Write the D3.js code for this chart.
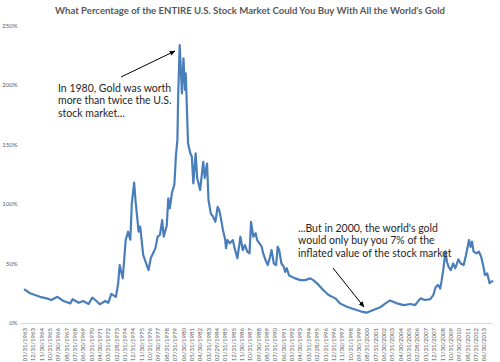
<!DOCTYPE html>
<html>
<head>
<meta charset="utf-8">
<script src="https://cdn.jsdelivr.net/npm/d3@7"></script>
<style>
  body { margin: 0; background: #fff; }
  svg { display: block; }
</style>
</head>
<body>
<svg id="chart"></svg>
<script>
/// data ///
const months = [
  "1963-01","1963-09","1964-10","1965-07","1966-01","1966-09","1967-05","1968-02","1968-05","1969-01",
  "1969-07","1970-02","1970-07","1970-12","1971-05","1971-12","1972-04","1972-08","1973-02","1973-05",
  "1973-07","1973-11","1974-03","1974-06","1974-09","1974-11","1975-02","1975-04","1975-08","1975-10",
  "1976-02","1976-09","1976-12","1977-06","1977-09","1977-12","1978-03","1978-05","1978-09","1978-11",
  "1979-01","1979-04","1979-06","1979-07","1979-09","1979-11","1979-12","1980-02","1980-05","1980-07",
  "1980-09","1980-10","1980-12","1981-01","1981-04","1981-06","1981-08","1981-11","1982-01","1982-05",
  "1982-09","1982-11","1983-02","1983-04","1983-07","1983-10","1984-01","1984-04","1984-06","1984-08",
  "1984-11","1985-02","1985-03","1985-05","1985-08","1985-12","1986-03","1986-06","1986-10","1987-01",
  "1987-04","1987-07","1987-10","1987-12","1988-03","1988-06","1988-08","1988-11","1989-02","1989-04",
  "1989-07","1989-10","1990-01","1990-03","1990-06","1990-09","1990-11","1991-01","1991-04","1991-07",
  "1991-09","1991-11","1992-02","1992-10","1993-05","1993-11","1994-06","1994-10","1995-05","1995-11",
  "1996-06","1997-03","1997-09","1998-06","1999-03","2000-02","2000-08","2001-05","2002-02","2002-09",
  "2003-03","2003-12","2004-09","2005-06","2005-12","2006-07","2007-01","2007-08","2007-12","2008-03",
  "2008-06","2008-09","2008-11","2009-01","2009-04","2009-06","2009-08","2009-11","2010-02","2010-05",
  "2010-09","2010-12","2011-04","2011-07","2011-11","2012-01","2012-03","2012-05","2012-09","2012-12",
  "2013-03","2013-06","2013-08","2013-11","2014-02","2014-04","2014-07"
];
const goldPct = [
  28.5, 25, 22, 20.7, 19.3, 22, 18.5, 16.5, 20, 17,
  18.5, 16, 21.3, 18.7, 15.7, 18.5, 17, 24.4, 22, 33,
  48.7, 37.5, 70, 76.7, 70, 100.6, 117.9, 102, 76.7, 81,
  57, 44.5, 54.6, 62.7, 72.5, 74, 86.5, 72.5, 82, 104.8,
  96.4, 110, 114, 116, 140, 154, 190, 233.6, 193, 222.4,
  195.8, 209.8, 170.6, 151, 142.6, 139.7, 117.4, 142.6, 122, 111.8,
  135.5, 122, 134, 103.4, 92, 89.3, 85, 97.7, 95, 89,
  78, 69.7, 62.8, 69.7, 67, 69.7, 61.3, 54.4, 72.5, 61.3,
  65.5, 60, 58.5, 85, 72.5, 75.4, 69.7, 67, 64, 58.5,
  53, 48.7, 55.7, 61.3, 50, 48.7, 64, 61.3, 50, 47.3,
  43, 46, 40, 37.5, 36, 36, 37.5, 36, 32, 27.7,
  23.5, 20.7, 16.5, 13.7, 11.8, 9.5, 8.7, 11, 13.2, 16.5,
  19, 16.5, 15, 16, 15, 20.7, 19.3, 20, 23.5, 30,
  32, 29, 36, 44.5, 60, 51.5, 47.3, 44.5, 50, 46,
  53.5, 50, 48.7, 57, 69.7, 64, 68.3, 60, 58.5, 60,
  55.7, 47.3, 40.3, 41.7, 33.4, 34.7, 35.3
];
const tickLabels = [
  "01/31/1963","12/31/1963","11/30/1964","10/31/1965","09/30/1966","08/31/1967","07/31/1968","06/30/1969",
  "05/31/1970","04/30/1971","03/31/1972","02/28/1973","01/31/1974","12/31/1974","11/30/1975","10/31/1976",
  "09/30/1977","08/31/1978","07/31/1979","06/30/1980","05/31/1981","04/30/1982","03/31/1983","02/29/1984",
  "01/31/1985","12/31/1985","11/30/1986","10/31/1987","09/30/1988","08/31/1989","07/31/1990","06/30/1991",
  "05/31/1992","04/30/1993","03/31/1994","02/28/1995","01/31/1996","12/31/1996","11/30/1997","10/31/1998",
  "09/30/1999","08/31/2000","07/31/2001","06/30/2002","05/31/2003","04/30/2004","03/31/2005","02/28/2006",
  "01/31/2007","12/31/2007","11/30/2008","10/31/2009","09/30/2010","08/31/2011","07/31/2012","06/30/2013"
];
const yTicks = [0, 50, 100, 150, 200, 250];

const title = "What  Percentage of the ENTIRE U.S. Stock Market Could You Buy With All the World's Gold";
const note1980 = ["In 1980, Gold was worth", "more than twice the U.S.", "stock market..."];
const note2000 = ["...But in 2000, the world's gold", "would only buy you 7% of the", "inflated value of the stock market"];

/// constants ///
const width = 500;
const height = 362;
const lineColour = "#4a7ebb";
const textGrey = "#595959";

const parseMonth = d3.timeParse("%Y-%m");
const parseLabel = d3.timeParse("%m/%d/%Y");
const data = months.map((m, i) => ({ date: parseMonth(m), value: goldPct[i] }));

const svg = d3.select("#chart").attr("width", width).attr("height", height);

// scales
const x = d3.scaleTime()
  .domain([new Date(1963, 0, 1), new Date(2014, 6, 1)])
  .range([24, 493.3]);
const y = d3.scaleLinear().domain([0, 250]).range([323, 25.5]);

// title
svg.append("text")
  .attr("x", 250).attr("y", 14)
  .attr("text-anchor", "middle")
  .attr("font-family", "Lato, 'Open Sans', sans-serif")
  .attr("font-weight", "bold")
  .attr("font-size", "9.6px")
  .attr("fill", textGrey)
  .attr("textLength", 390)
  .attr("lengthAdjust", "spacingAndGlyphs")
  .text(title);

// y labels
svg.append("g").selectAll("text").data(yTicks).join("text")
  .attr("x", 17.5)
  .attr("y", d => y(d))
  .attr("dy", "0.35em")
  .attr("text-anchor", "end")
  .attr("font-family", "Lato, sans-serif")
  .attr("font-size", "6px")
  .attr("fill", textGrey)
  .text(d => d + "%");

// x axis line
svg.append("line")
  .attr("x1", 21).attr("x2", 493)
  .attr("y1", y(0) + 0.5).attr("y2", y(0) + 0.5)
  .attr("stroke", "#d9d9d9").attr("stroke-width", 1);

// x labels, rotated
svg.append("g").selectAll("text").data(tickLabels).join("text")
  .attr("transform", d => `translate(${x(parseLabel(d))}, 328) rotate(-90)`)
  .attr("dy", "0.35em")
  .attr("text-anchor", "end")
  .attr("font-family", "Lato, sans-serif")
  .attr("font-size", "6px")
  .attr("fill", textGrey)
  .text(d => d);

// the line
const line = d3.line().x(d => x(d.date)).y(d => y(d.value));
svg.append("path")
  .datum(data)
  .attr("d", line)
  .attr("fill", "none")
  .attr("stroke", lineColour)
  .attr("stroke-width", 2.2)
  .attr("stroke-linejoin", "round");

// arrow marker
svg.append("defs").append("marker")
  .attr("id", "arrow")
  .attr("viewBox", "0 0 10 10")
  .attr("refX", 9).attr("refY", 5)
  .attr("markerWidth", 6).attr("markerHeight", 6)
  .attr("orient", "auto")
  .append("path")
  .attr("d", "M0,1 L10,5 L0,9 Z")
  .attr("fill", "#000");

// annotations
function note(lines, x0, y0) {
  svg.append("g").selectAll("text").data(lines).join("text")
    .attr("x", x0)
    .attr("y", (d, i) => y0 + i * 12.3)
    .attr("font-family", "Lato, 'Open Sans', sans-serif")
    .attr("font-size", "10.5px")
    .attr("fill", "#262626")
    .text(d => d);
}
note(note1980, 58, 92);
note(note2000, 298, 232);

svg.append("line")
  .attr("x1", 121).attr("y1", 77).attr("x2", 175).attr("y2", 51)
  .attr("stroke", "#000").attr("stroke-width", 1)
  .attr("marker-end", "url(#arrow)");
svg.append("line")
  .attr("x1", 333).attr("y1", 268).attr("x2", 364).attr("y2", 307)
  .attr("stroke", "#000").attr("stroke-width", 1)
  .attr("marker-end", "url(#arrow)");
</script>
</body>
</html>
